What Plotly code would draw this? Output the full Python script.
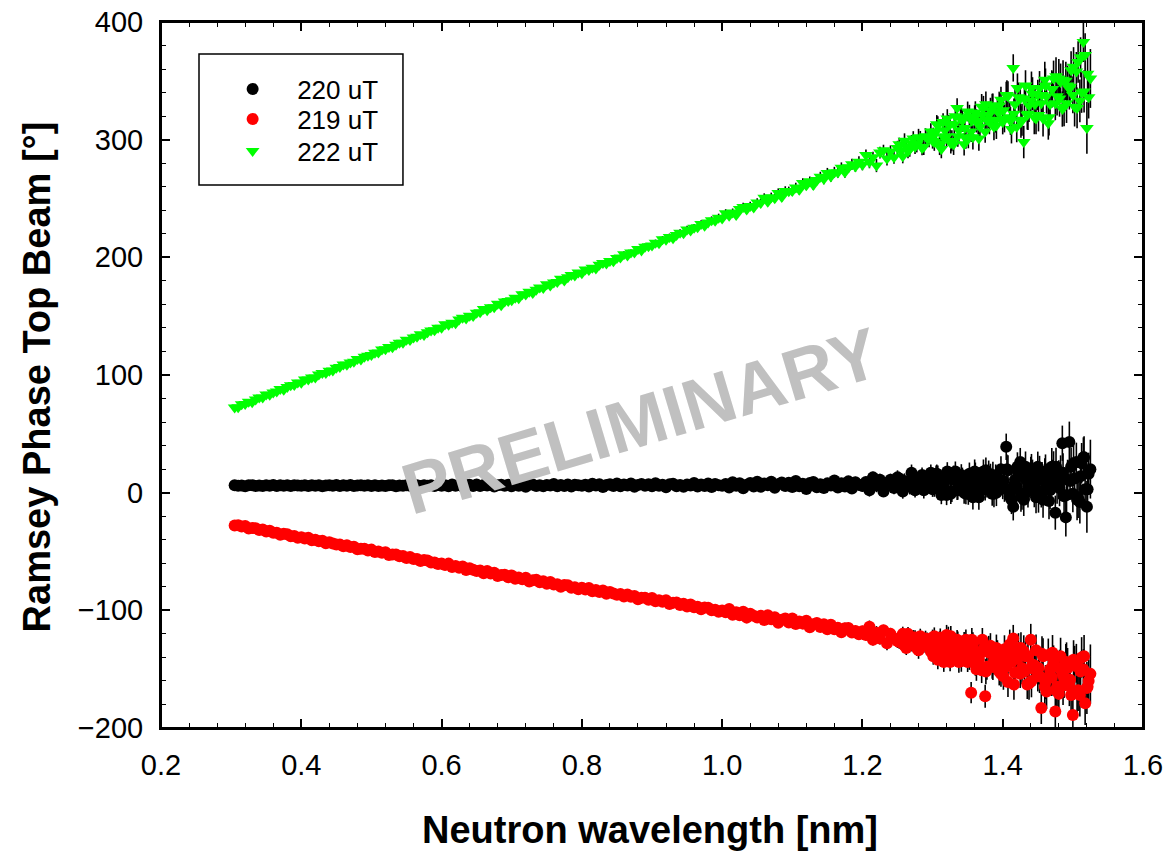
import plotly.graph_objects as go

# Neutron wavelength bins [nm] (shared by all three series)
wavelength = [
    0.305, 0.310, 0.315, 0.320, 0.325, 0.330, 0.335, 0.340, 0.345, 0.350,
    0.355, 0.360, 0.365, 0.370, 0.375, 0.380, 0.385, 0.390, 0.395, 0.400,
    0.405, 0.410, 0.415, 0.420, 0.425, 0.430, 0.435, 0.440, 0.445, 0.450,
    0.455, 0.460, 0.465, 0.470, 0.475, 0.480, 0.485, 0.490, 0.495, 0.500,
    0.505, 0.510, 0.515, 0.520, 0.525, 0.530, 0.535, 0.540, 0.545, 0.550,
    0.555, 0.560, 0.565, 0.570, 0.575, 0.580, 0.585, 0.590, 0.595, 0.600,
    0.605, 0.610, 0.615, 0.620, 0.625, 0.630, 0.635, 0.640, 0.645, 0.650,
    0.655, 0.660, 0.665, 0.670, 0.675, 0.680, 0.685, 0.690, 0.695, 0.700,
    0.705, 0.710, 0.715, 0.720, 0.725, 0.730, 0.735, 0.740, 0.745, 0.750,
    0.755, 0.760, 0.765, 0.770, 0.775, 0.780, 0.785, 0.790, 0.795, 0.800,
    0.805, 0.810, 0.815, 0.820, 0.825, 0.830, 0.835, 0.840, 0.845, 0.850,
    0.855, 0.860, 0.865, 0.870, 0.875, 0.880, 0.885, 0.890, 0.895, 0.900,
    0.905, 0.910, 0.915, 0.920, 0.925, 0.930, 0.935, 0.940, 0.945, 0.950,
    0.955, 0.960, 0.965, 0.970, 0.975, 0.980, 0.985, 0.990, 0.995, 1.000,
    1.005, 1.010, 1.015, 1.020, 1.025, 1.030, 1.035, 1.040, 1.045, 1.050,
    1.055, 1.060, 1.065, 1.070, 1.075, 1.080, 1.085, 1.090, 1.095, 1.100,
    1.105, 1.110, 1.115, 1.120, 1.125, 1.130, 1.135, 1.140, 1.145, 1.150,
    1.155, 1.160, 1.165, 1.170, 1.175, 1.180, 1.185, 1.190, 1.195, 1.200,
    1.205, 1.210, 1.215, 1.220, 1.225, 1.230, 1.235, 1.240, 1.245, 1.250,
    1.255, 1.260, 1.265, 1.270, 1.275, 1.280, 1.285, 1.290, 1.295, 1.300,
    1.305, 1.310, 1.315, 1.320, 1.325, 1.330, 1.335, 1.340, 1.345, 1.350,
    1.355, 1.360, 1.365, 1.370, 1.375, 1.380, 1.385, 1.390, 1.395, 1.400,
    1.405, 1.410, 1.415, 1.420, 1.425, 1.430, 1.435, 1.440, 1.445, 1.450,
    1.455, 1.460, 1.465, 1.470, 1.475, 1.480, 1.485, 1.490, 1.495, 1.500,
    1.505, 1.510, 1.515, 1.520, 1.525,
    # interleaved bins of the long-wavelength (low-flux) region
    1.2525, 1.2575, 1.2625, 1.2675, 1.2725, 1.2775, 1.2825, 1.2875, 1.2925, 1.2975,
    1.3025, 1.3075, 1.3125, 1.3175, 1.3225, 1.3275, 1.3325, 1.3375, 1.3425, 1.3475,
    1.3525, 1.3575, 1.3625, 1.3675, 1.3725, 1.3775, 1.3825, 1.3875, 1.3925, 1.3975,
    1.4025, 1.4075, 1.4125, 1.4175, 1.4225, 1.4275, 1.4325, 1.4375, 1.4425, 1.4475,
    1.4525, 1.4575, 1.4625, 1.4675, 1.4725, 1.4775, 1.4825, 1.4875, 1.4925, 1.4975,
    1.5025, 1.5075, 1.5125, 1.5175, 1.5225,
    1.301, 1.306, 1.311, 1.316, 1.321, 1.326, 1.331, 1.336, 1.341, 1.346,
    1.351, 1.356, 1.361, 1.366, 1.371, 1.376, 1.381, 1.386, 1.391, 1.396,
    1.401, 1.406, 1.411, 1.416, 1.421, 1.426, 1.431, 1.436, 1.441, 1.446,
    1.451, 1.456, 1.461, 1.466, 1.471, 1.476, 1.481, 1.486, 1.491, 1.496,
    1.501, 1.506, 1.511, 1.516, 1.521,
]

# Ramsey phase [deg], 220 uT
phase_220 = [
    6.4, 5.8, 6.1, 5.5, 6.2, 6.3, 5.7, 6.1, 5.6, 6.2,
    5.9, 6.5, 5.7, 6.2, 5.8, 6.4, 5.6, 6.3, 6.0, 5.8,
    6.2, 5.6, 6.4, 5.9, 6.3, 5.5, 6.1, 6.3, 5.8, 6.5,
    5.7, 6.2, 5.9, 6.5, 5.6, 6.1, 6.4, 5.8, 6.3, 5.7,
    6.2, 5.6, 6.1, 5.7, 6.3, 6.2, 5.5, 6.1, 5.8, 6.4,
    5.8, 6.0, 6.3, 5.6, 6.4, 5.8, 6.2, 5.7, 6.5, 5.9,
    6.4, 5.4, 6.9, 5.9, 6.6, 5.2, 6.2, 6.7, 5.7, 7.0,
    5.6, 6.5, 6.0, 7.0, 5.3, 6.3, 6.8, 5.8, 6.7, 5.5,
    7.2, 5.8, 6.4, 5.1, 6.7, 6.9, 5.6, 6.3, 5.4, 6.6,
    6.0, 7.3, 5.5, 6.6, 5.7, 7.0, 5.2, 6.8, 6.2, 5.8,
    6.8, 5.2, 7.5, 6.0, 7.1, 4.9, 6.5, 7.2, 5.7, 7.7,
    5.5, 6.9, 6.1, 7.7, 5.1, 6.6, 7.4, 5.8, 7.2, 5.4,
    8.0, 5.8, 6.8, 4.6, 7.2, 7.6, 5.4, 6.6, 5.0, 7.0,
    6.0, 8.2, 5.2, 7.0, 5.6, 7.8, 4.8, 7.4, 6.4, 5.8,
    7.4, 4.4, 8.9, 5.9, 8.0, 3.8, 6.8, 8.3, 5.3, 9.2,
    5.1, 7.8, 6.3, 9.3, 4.2, 7.2, 8.7, 5.7, 8.4, 4.8,
    9.9, 5.5, 7.5, 3.1, 8.3, 9.1, 4.7, 7.1, 3.9, 7.9,
    6.0, 10.4, 4.4, 8.0, 5.2, 9.6, 3.6, 8.8, 6.8, 5.6,
    9, 2, 13, 6, 11, 1, 8, 11, 4, 13,
    4, 10, 7, 17, 2, 9, 15, 5, 11, 3,
    16, 4, 10, -2, 12, 14, 2, 9, 0, 11,
    6, 18, 1, 11, 3, 16, -1, 13, 8, 5,
    39, -3, -12, 5, 26, -6, 10, 17, 2, 22,
    1, 14, 7, 22, -17, 11, 42, -21, 43, -1,
    26, -8, 30, -12, 20,
    12, 1, 8, 5, 13, 7, 11, 2, 9, 17,
    4, 15, -2, 10, 13, 1, 18, 7, 12, -1,
    16, -4, 9, 3, 18, 7, 14, -1, 11, 20,
    4, 19, -6, 11, 16, -1, 22, 7, 14, -4,
    17, -6, 10, 2, 20, 7, 16, -3, 11, 22,
    12, -4, 25, 3, 16,
    9, 16, 2, 5, 18, -1, 11, 3, 15, 6,
    -1, 11, 16, -4, 12, 19, 5, 15, 0, 10,
    10, 20, 1, 5, 22, -3, 13, 1, 19, 7,
    -3, 11, 18, -7, 13, 22, 4, 17, -2, 10,
    25, -6, 14, 30, 3,
]

# Ramsey phase [deg], 219 uT
phase_219 = [
    -28.0, -27.7, -28.7, -28.3, -30.5, -30.1, -30.2, -31.7, -31.4, -33.1,
    -32.3, -34.0, -34.0, -35.7, -34.9, -35.3, -37.0, -36.9, -38.3, -37.8,
    -38.9, -38.4, -40.4, -40.1, -41.3, -40.8, -42.9, -42.1, -43.2, -44.0,
    -44.0, -45.6, -44.6, -46.2, -46.0, -48.0, -47.6, -47.6, -49.2, -48.4,
    -50.4, -50.1, -51.1, -50.7, -52.9, -52.5, -52.6, -54.1, -53.8, -55.5,
    -54.7, -56.4, -56.4, -58.1, -57.3, -57.7, -59.4, -59.3, -60.7, -60.2,
    -61.4, -60.3, -63.1, -62.3, -63.9, -62.8, -65.7, -64.2, -65.6, -66.6,
    -66.2, -68.4, -66.6, -68.7, -68.1, -70.9, -69.9, -69.7, -71.8, -70.3,
    -73.1, -72.2, -73.5, -72.3, -75.4, -74.4, -74.1, -76.2, -75.2, -77.5,
    -75.9, -78.1, -77.8, -79.9, -78.4, -78.6, -80.8, -80.3, -82.0, -80.9,
    -82.2, -81.0, -83.8, -82.8, -84.4, -83.2, -86.0, -84.5, -85.7, -86.7,
    -86.2, -88.3, -86.5, -88.4, -87.8, -90.5, -89.4, -89.2, -91.1, -89.6,
    -92.3, -91.4, -92.7, -91.5, -94.6, -93.6, -93.3, -95.4, -94.4, -96.7,
    -95.1, -97.3, -97.0, -99.1, -97.6, -97.8, -100.0, -99.5, -101.2, -100.1,
    -101.7, -98.9, -103.8, -101.6, -104.1, -101.3, -106.2, -102.8, -104.7, -106.1,
    -104.7, -108.2, -104.1, -107.6, -105.9, -110.6, -108.0, -107.0, -110.4, -107.0,
    -111.6, -109.4, -111.3, -108.8, -114.3, -111.8, -110.7, -114.2, -111.9, -116.0,
    -112.2, -116.0, -114.9, -118.7, -115.2, -115.1, -118.8, -117.5, -120.3, -117.8,
    -121, -114, -125, -119, -124, -117, -128, -120, -124, -126,
    -123, -130, -120, -128, -123, -134, -127, -124, -132, -123,
    -137, -126, -133, -121, -144, -131, -125, -139, -128, -144,
    -170, -142, -136, -151, -173, -133, -148, -141, -152, -140,
    -148, -129, -124, -141, -154, -135, -163, -125, -150, -156,
    -183, -165, -138, -157, -186, -171, -154, -145, -164, -189,
    -145, -172, -150, -166, -154,
    -127, -120, -132, -125, -123, -132, -122, -129, -126, -135,
    -122, -142, -130, -137, -122, -135, -128, -144, -133, -125,
    -141, -129, -150, -137, -133, -148, -130, -143, -137, -154,
    -133, -161, -144, -153, -132, -149, -139, -162, -146, -134,
    -156, -139, -169, -150, -145, -165, -139, -158, -149, -172,
    -147, -168, -140, -179, -160,
    -139, -128, -123, -144, -129, -122, -137, -127, -143, -134,
    -135, -125, -146, -142, -125, -152, -136, -148, -132, -145,
    -156, -141, -134, -163, -141, -132, -152, -139, -160, -147,
    -149, -137, -161, -156, -136, -168, -149, -164, -144, -159,
    -142, -170, -152, -139, -165,
]

# Ramsey phase [deg], 222 uT
phase_222 = [
    72.3, 72.5, 75.1, 75.3, 77.2, 76.9, 79.1, 80.8, 80.9, 83.4,
    83.2, 85.2, 85.9, 88.0, 87.5, 89.7, 91.3, 91.5, 93.6, 93.5,
    96.1, 96.2, 97.8, 97.9, 100.4, 101.7, 101.8, 103.6, 103.9, 106.1,
    106.8, 109.0, 108.7, 110.7, 111.2, 113.5, 113.1, 115.6, 116.3, 117.1,
    118.9, 119.1, 121.7, 121.9, 123.8, 123.5, 125.7, 127.4, 127.5, 130.0,
    129.8, 131.8, 132.5, 134.6, 134.1, 136.3, 137.9, 138.1, 140.2, 140.1,
    143.1, 142.6, 144.5, 144.0, 147.2, 148.6, 148.1, 150.3, 150.1, 152.9,
    153.3, 156.1, 155.0, 157.5, 157.6, 160.5, 159.3, 162.5, 162.9, 163.5,
    165.7, 165.3, 168.7, 168.4, 170.7, 169.6, 172.4, 174.3, 173.9, 177.1,
    176.1, 178.6, 179.0, 181.7, 180.3, 183.0, 184.9, 184.5, 187.1, 186.4,
    189.7, 189.2, 191.1, 190.6, 193.8, 195.2, 194.7, 196.9, 196.7, 199.5,
    199.9, 202.7, 201.6, 204.1, 204.2, 207.1, 205.9, 209.1, 209.5, 210.1,
    212.3, 211.9, 215.3, 215.0, 217.3, 216.2, 219.0, 220.9, 220.5, 223.7,
    222.7, 225.2, 225.6, 228.3, 226.9, 229.6, 231.5, 231.1, 233.7, 233.0,
    237.5, 235.4, 238.0, 235.9, 241.0, 242.7, 240.6, 243.6, 242.3, 246.5,
    246.2, 250.6, 247.3, 251.1, 250.2, 254.7, 251.3, 256.4, 256.1, 256.3,
    259.3, 257.5, 263.1, 261.3, 264.6, 261.5, 265.7, 268.4, 266.5, 271.6,
    268.6, 272.4, 272.1, 276.2, 272.3, 276.5, 279.1, 277.3, 281.2, 278.7,
    287, 281, 285, 278, 289, 291, 284, 290, 285, 293,
    291, 299, 290, 297, 294, 302, 293, 303, 301, 299,
    307, 295, 315, 303, 313, 296, 327, 318, 296, 324,
    307, 319, 314, 328, 307, 321, 329, 317, 329, 315,
    338, 319, 361, 311, 335, 298, 321, 333, 319, 338,
    331, 351, 314, 343, 331, 352, 326, 350, 343, 338,
    358, 333, 383, 310, 352,
    296, 286, 294, 292, 301, 296, 301, 294, 301, 307,
    298, 312, 292, 308, 313, 299, 320, 308, 316, 301,
    320, 302, 316, 311, 327, 317, 325, 311, 324, 334,
    318, 337, 309, 330, 336, 317, 346, 329, 339, 318,
    344, 318, 337, 330, 352, 337, 349, 328, 346, 359,
    328, 366, 340, 372, 336,
    303, 313, 297, 302, 318, 297, 313, 303, 319, 310,
    302, 316, 323, 301, 321, 330, 315, 328, 312, 324,
    325, 338, 316, 322, 344, 315, 335, 322, 344, 330,
    321, 338, 346, 319, 343, 354, 335, 351, 331, 345,
    362, 327, 370, 341, 356,
]

# Phase uncertainty [deg] per wavelength bin
phase_err = [
    0.8, 0.8, 0.8, 0.8, 0.8, 0.8, 0.8, 0.8, 0.9, 0.9,
    0.9, 0.9, 0.9, 0.9, 0.9, 0.9, 0.9, 0.9, 1.0, 1.0,
    1.0, 1.0, 1.0, 1.0, 1.0, 1.0, 1.0, 1.0, 1.1, 1.1,
    1.1, 1.1, 1.1, 1.1, 1.1, 1.1, 1.1, 1.2, 1.2, 1.2,
    1.2, 1.2, 1.2, 1.2, 1.2, 1.2, 1.3, 1.3, 1.3, 1.3,
    1.3, 1.3, 1.3, 1.3, 1.3, 1.4, 1.4, 1.4, 1.4, 1.4,
    1.4, 1.4, 1.5, 1.5, 1.5, 1.5, 1.5, 1.5, 1.6, 1.6,
    1.6, 1.6, 1.6, 1.7, 1.7, 1.7, 1.7, 1.7, 1.8, 1.8,
    1.8, 1.8, 1.8, 1.9, 1.9, 1.9, 1.9, 2.0, 2.0, 2.0,
    2.0, 2.0, 2.1, 2.1, 2.1, 2.1, 2.2, 2.2, 2.2, 2.2,
    2.2, 2.3, 2.3, 2.3, 2.3, 2.4, 2.4, 2.4, 2.4, 2.5,
    2.5, 2.5, 2.5, 2.6, 2.6, 2.6, 2.7, 2.7, 2.7, 2.7,
    2.8, 2.8, 2.8, 2.9, 2.9, 2.9, 3.0, 3.0, 3.0, 3.1,
    3.1, 3.1, 3.2, 3.2, 3.2, 3.3, 3.3, 3.3, 3.4, 3.4,
    3.4, 3.5, 3.5, 3.5, 3.6, 3.6, 3.6, 3.7, 3.7, 3.7,
    3.8, 3.8, 3.8, 3.9, 3.9, 3.9, 4.0, 4.0, 4.0, 4.1,
    4.1, 4.1, 4.2, 4.2, 4.2, 4.3, 4.3, 4.3, 4.4, 4.4,
    4.4, 4.5, 4.5, 4.5, 4.6, 4.6, 4.6, 4.7, 4.7, 4.7,
    4.6, 5.3, 4.8, 5.6, 5.0, 4.7, 5.9, 5.1, 5.4, 6.0,
    5.6, 6.4, 5.8, 6.9, 6.1, 7.2, 6.3, 6.7, 7.5, 6.6,
    7.0, 8.1, 7.4, 8.6, 7.7, 9.0, 8.2, 8.8, 9.5, 8.4,
    9.0, 10.2, 9.4, 10.8, 9.7, 11.3, 10.1, 11.0, 11.8, 10.5,
    11.2, 12.6, 11.6, 13.2, 12.0, 13.8, 12.4, 13.5, 14.4, 12.9,
    13.6, 15.2, 14.0, 15.9, 14.5, 16.6, 15.0, 16.3, 17.4, 15.6,
    16.5, 18.2, 17.0, 22.0, 25.0,
    5.7, 6.1, 6.0, 6.5, 6.2, 6.8, 6.4, 7.0, 7.1, 6.9,
    7.5, 8.0, 7.8, 8.4, 8.1, 8.9, 8.5, 9.1, 9.3, 8.8,
    9.6, 10.3, 9.9, 10.7, 10.2, 11.1, 10.6, 11.4, 11.6, 11.0,
    11.8, 12.7, 12.2, 13.1, 12.6, 13.6, 13.0, 13.9, 14.1, 13.4,
    14.3, 15.3, 14.8, 15.8, 15.2, 16.4, 15.7, 16.6, 17.0, 16.2,
    16.8, 17.6, 17.2, 18.4, 18.0,
    7.2, 7.9, 7.6, 8.3, 7.9, 8.7, 8.3, 9.0, 9.2, 8.6,
    9.3, 10.0, 9.6, 10.5, 10.0, 10.9, 10.4, 11.2, 11.4, 10.8,
    11.5, 12.4, 11.9, 12.9, 12.3, 13.3, 12.8, 13.7, 13.9, 13.2,
    14.0, 15.0, 14.5, 15.5, 15.0, 16.1, 15.5, 16.4, 16.8, 16.0,
    16.6, 17.4, 17.0, 18.0, 17.7,
]

series_names = ["220 uT", "219 uT", "222 uT"]
x_ticks = [0.2, 0.4, 0.6, 0.8, 1.0, 1.2, 1.4, 1.6]
y_ticks = [-200, -100, 0, 100, 200, 300, 400]

FONT = "Liberation Sans, Arial, Helvetica, sans-serif"

fig = go.Figure()
styles = [
    (phase_220, "#000000", "circle", "legend"),
    (phase_219, "#ff0000", "circle", "legend2"),
    (phase_222, "#00ff00", "triangle-down", "legend3"),
]
for name, (ys, color, sym, leg) in zip(series_names, styles):
    fig.add_trace(go.Scatter(
        x=wavelength, y=ys, name=name, mode="markers", legend=leg,
        marker=dict(color=color, size=12, symbol=sym, line=dict(width=0)),
        error_y=dict(type="data", array=phase_err, visible=True,
                     color="#000000", thickness=1.6, width=0),
    ))

axis_common = dict(
    showline=True, linecolor="black", linewidth=2, mirror="ticks",
    ticks="inside", ticklen=9, tickwidth=1.5, tickcolor="black",
    showgrid=False, zeroline=False, ticklabelstandoff=10,
    ticklabeloverflow="allow", automargin=False,
    tickfont=dict(family=FONT, size=29, color="black"),
)

fig.update_xaxes(
    range=[0.2, 1.6], tickvals=x_ticks, tickformat=".1f",
    minor=dict(ticks="inside", dtick=0.04, tick0=0.2, ticklen=5,
               tickwidth=1.2, tickcolor="black", showgrid=False),
    **axis_common,
)
fig.update_yaxes(
    range=[-200, 400], tickvals=y_ticks,
    minor=dict(ticks="inside", dtick=20, tick0=0, ticklen=5,
               tickwidth=1.2, tickcolor="black", showgrid=False),
    **axis_common,
)

legend_common = dict(
    xanchor="left", yanchor="middle", x=0.048,
    bgcolor="rgba(0,0,0,0)", borderwidth=0,
    font=dict(family=FONT, size=26, color="black"),
    itemwidth=79,
)

fig.update_layout(
    width=1163, height=844,
    margin=dict(l=153, r=28, t=14, b=124, autoexpand=False),
    paper_bgcolor="white", plot_bgcolor="white",
    font=dict(family=FONT, color="black"),
    showlegend=True,
    legend=dict(y=0.905, **legend_common),
    legend2=dict(y=0.8626, **legend_common),
    legend3=dict(y=0.8173, **legend_common),
    shapes=[
        dict(type="rect", xref="paper", yref="paper",
             x0=0.0387, x1=0.2464, y0=0.769, y1=0.9547,
             line=dict(color="black", width=1.5), fillcolor="rgba(0,0,0,0)"),
        dict(type="rect", xref="paper", yref="paper",
             x0=0, x1=1, y0=0, y1=1, layer="above",
             line=dict(color="black", width=2), fillcolor="rgba(0,0,0,0)"),
    ],
    annotations=[
        dict(text="<b>Neutron wavelength [nm]</b>", xref="paper", yref="paper",
             x=0.498, y=-0.145, xanchor="center", yanchor="middle",
             showarrow=False, font=dict(family=FONT, size=38, color="black")),
        dict(text="<b>Ramsey Phase Top Beam [°]</b>", xref="paper", yref="paper",
             x=-0.126, y=0.497, xanchor="center", yanchor="middle",
             textangle=-90, showarrow=False,
             font=dict(family=FONT, size=38, color="black")),
        dict(text="<b>PRELIMINARY</b>", xref="paper", yref="paper",
             x=0.488, y=0.435, xanchor="center", yanchor="middle",
             textangle=-16.6, showarrow=False,
             font=dict(family=FONT, size=72, color="#c0c0c0")),
    ],
)

fig.write_html("out.html")
